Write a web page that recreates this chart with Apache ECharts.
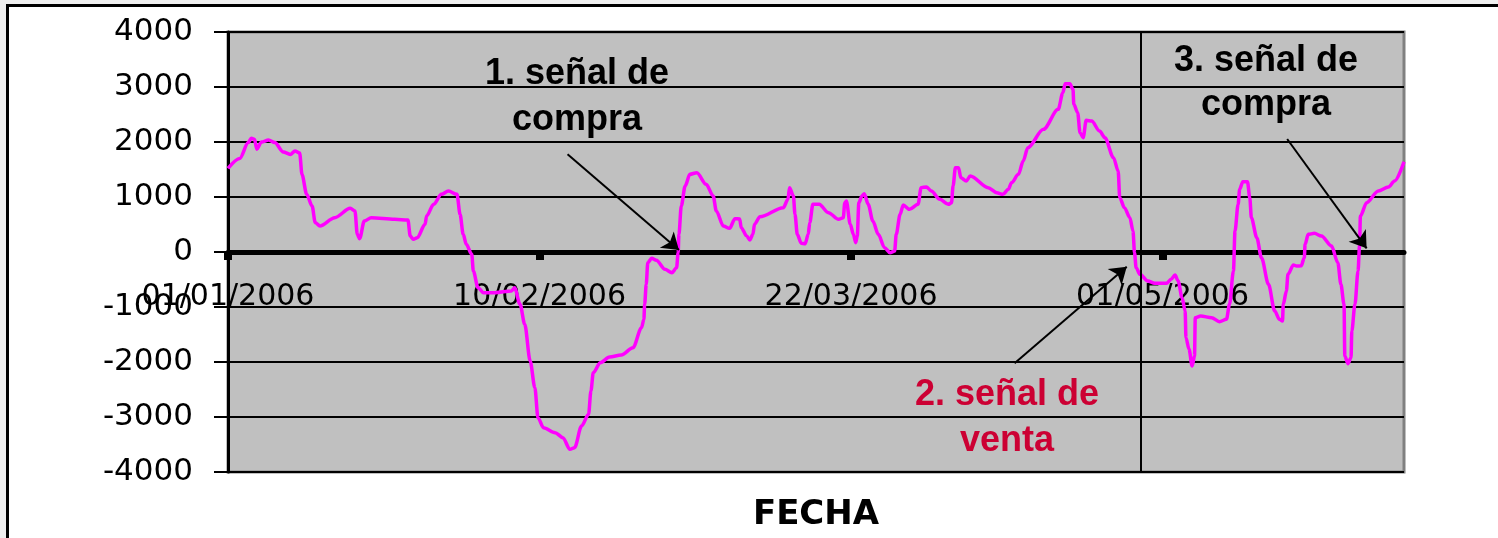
<!DOCTYPE html>
<html>
<head>
<meta charset="utf-8">
<script src="https://cdn.jsdelivr.net/npm/echarts@6/dist/echarts.min.js"></script>
<style>
html, body { margin: 0; padding: 0; background: #efefef; overflow: hidden; }
#panel { position: absolute; left: 6px; top: 4px; width: 1600px; height: 600px; background: #fff; border-top: 3px solid #000; border-left: 3px solid #000; }
#chart { position: absolute; left: 0; top: 0; width: 1498px; height: 538px; }
</style>
</head>
<body>
<div id="panel"></div>
<div id="chart"></div>
<script>
const dias = [
  0, 1.5, 2.6, 3.0, 3.4, 3.7, 4.3, 5.2, 6.0, 7.1, 8.0, 8.6, 9.2, 9.5, 10.1, 10.8, 11.2, 11.8,
  13.7, 15.7, 16.3, 16.6, 16.9, 17.5, 18.4, 21.4, 23.1, 23.4, 23.8, 24.3, 25.3, 25.5, 26.4,
  27.4, 28.3, 29.4, 29.8, 30.2, 30.6, 31.3, 31.5, 32.1, 32.8, 34.3, 36.4, 36.8, 37.5, 38.1,
  38.8, 39.4, 39.8, 40.5, 42.0, 43.0, 43.9, 44.5, 45.4, 46.3, 46.6, 46.9, 47.8, 49.0, 50.5,
  52.0, 53.1, 53.4, 53.5, 53.7, 53.9, 54.4, 55.0, 56.1, 57.0, 57.6, 57.8, 57.9, 58.2, 58.7,
  59.3, 60.2, 61.4, 62.3, 62.7, 63.6, 64.4, 65.1, 65.7, 65.9, 66.6, 67.0, 67.4, 67.6, 68.3,
  71.3, 71.9, 72.1, 72.6, 72.8, 73.1, 73.6, 74.1, 74.5, 74.7, 75.1, 75.9, 77.1, 78.4, 79.0,
  79.2, 79.4, 79.9, 80.3, 80.6, 80.8, 81.0, 81.4, 81.7, 82.2, 82.8, 83.5, 84.3, 85.0, 85.6,
  85.8, 86.3, 86.7, 87.5, 88.6, 89.0, 89.7, 90.3, 91.4, 92.5, 92.9, 93.1, 93.4, 93.8, 94.1,
  94.8, 95.3, 97.6, 98.7, 99.5, 100.2, 100.6, 101.5, 102.1, 102.7, 104.7, 106.6, 107.2, 107.5,
  108.1, 108.5, 108.6, 109.1, 109.4, 109.8, 110.2, 110.9, 111.9, 112.6, 113.7, 114.3, 114.5,
  115.1, 115.8, 116.2, 116.4, 116.6, 117.1, 118.1, 119.0, 120.5, 121.1, 121.6, 122.0, 122.5,
  122.9, 123.0, 123.4, 123.8, 124.1, 124.2, 124.9, 126.3, 127.3, 128.2, 128.6, 129.1, 129.3,
  129.7, 129.9, 130.3, 130.9, 131.2, 131.4, 132.1, 132.7, 133.6, 134.4, 135.0, 135.4, 135.5,
  135.9, 136.1, 136.8, 137.2, 137.8, 138.2, 138.3, 138.7, 139.5, 140.4, 141.7, 142.5, 142.9,
  143.3, 143.4, 143.8, 144.2, 144.3, 144.7, 145.1, 145.3, 145.4, 146.2, 147.7, 149.0, 149.8, 151.0
];
const valores = [
  1520, 1700, 1990, 2070, 2050, 1870, 2000, 2036, 1990, 1820, 1775, 1836, 1800, 1410, 1050, 836, 533, 473,
  624, 794, 745, 321, 242, 564, 624, 594, 582, 291, 230, 260, 503, 654, 867,
  1048, 1109, 1048, 685, 321, 140, -42, -345, -648, -739, -739, -709, -650, -951, -1315,
  -1982, -2466, -3012, -3194, -3285, -3375, -3588, -3557, -3163, -2951, -2527, -2194, -2012, -1909, -1873,
  -1739, -1376, -1224, -951, -588, -194, -115, -152, -315, -376, -285, -12, 321, 836, 1200,
  1412, 1442, 1230, 1018, 745, 473, 430, 606, 600, 442, 291, 218, 321, 503, 642,
  806, 958, 1170, 1018, 685, 321, 158, 150, 321, 533, 867, 867, 715, 594, 624,
  897, 927, 503, 321, 170, 291, 897, 1018, 1060, 867, 564, 321, 79, -12, 18,
  321, 685, 855, 776, 867, 1170, 1182, 1109, 958, 867, 897, 1200, 1533, 1533, 1351,
  1291, 1382, 1170, 1079, 1048, 1139, 1260, 1412, 1654, 1897, 2230, 2594, 2897, 3060,
  3060, 2957, 2685, 2533, 2170, 2079, 2394, 2382, 2200, 2079, 1715, 1473, 988,
  806, 624, 382, -12, -285, -406, -527, -570, -570, -497, -418, -527, -830,
  -1073, -1557, -1770, -2073, -1891, -1194, -1164, -1194, -1266, -1224, -951, -345, 382,
  867, 1139, 1279, 1279, 988, 624, 261, -103, -588, -1073, -1224, -1254, -951,
  -709, -406, -236, -255, -250, -103, 139, 321, 339, 291, 109, -194, -588,
  -951, -1891, -2030, -1921, -1436, -951, -345, 139, 654, 897, 1109, 1182, 1291, 1640
];
// fechas del eje (días desde el 01/01/2006)
const fechasEje = [0, 40, 80, 120];
// flechas de las señales: [día, valor] de inicio y de punta
const flechas = [
  [[43.6, 1776], [57.9, 36]],
  [[101.0, -2024], [115.4, -267]],
  [[136.0, 2055], [146.2, 67]]
];
const diaCorte = 117.2;

const inicio = Date.UTC(2006, 0, 1);
const dos = n => (n < 10 ? '0' : '') + n;
const fecha = d => {
  const t = new Date(inicio + d * 86400000);
  return dos(t.getUTCDate()) + '/' + dos(t.getUTCMonth() + 1) + '/' + t.getUTCFullYear();
};

const chart = echarts.init(document.getElementById('chart'));

const lineas = flechas.map(f => [{ coord: f[0] }, { coord: f[1] }]);
lineas.push([
  { coord: [diaCorte, 4000], symbol: 'none' },
  { coord: [diaCorte, -4000], symbol: 'none' }
]);

chart.setOption({
  animation: false,
  grid: {
    left: 228, right: 94, top: 32, bottom: 66,
    show: true, backgroundColor: '#C0C0C0', borderColor: '#808080', borderWidth: 3
  },
  xAxis: {
    type: 'value', min: 0, max: 151, interval: 40,
    // el eje va sobre la línea del cero (mitad de la rejilla)
    offset: -220,
    axisLine: { onZero: false, lineStyle: { color: '#000', width: 5 } },
    axisTick: { customValues: fechasEje, length: 8, lineStyle: { color: '#000', width: 8 } },
    axisLabel: {
      customValues: fechasEje, formatter: fecha, margin: 30,
      fontFamily: 'DejaVu Sans', fontSize: 30, color: '#000'
    },
    splitLine: { show: false }
  },
  yAxis: {
    type: 'value', min: -4000, max: 4000, interval: 1000,
    axisLine: { show: true, onZero: false, lineStyle: { color: '#000', width: 3 } },
    axisTick: { show: true, length: 14, lineStyle: { color: '#000', width: 2 } },
    axisLabel: {
      margin: 35, formatter: v => String(v),
      fontFamily: 'DejaVu Sans', fontSize: 31, color: '#000'
    },
    splitLine: { lineStyle: { color: '#000', width: 2 } }
  },
  series: [{
    type: 'line',
    data: dias.map((d, i) => [d, valores[i]]),
    showSymbol: false,
    smooth: 0.3,
    smoothMonotone: 'x',
    lineStyle: { color: '#FF00FF', width: 3.5 },
    markLine: {
      silent: true,
      symbol: ['none', 'arrow'],
      symbolSize: 16,
      label: { show: false },
      lineStyle: { color: '#000', width: 2, type: 'solid' },
      data: lineas
    }
  }],
  graphic: [
    {
      type: 'text', x: 577, y: 97,
      style: { text: '1. señal de\ncompra', font: 'bold 36px "Liberation Sans"', fill: '#000', align: 'center', verticalAlign: 'middle', lineHeight: 46 }
    },
    {
      type: 'text', x: 1007, y: 418,
      style: { text: '2. señal de\nventa', font: 'bold 36px "Liberation Sans"', fill: '#CC0033', align: 'center', verticalAlign: 'middle', lineHeight: 46 }
    },
    {
      type: 'text', x: 1266, y: 83,
      style: { text: '3. señal de\ncompra', font: 'bold 36px "Liberation Sans"', fill: '#000', align: 'center', verticalAlign: 'middle', lineHeight: 44 }
    },
    {
      type: 'text', x: 816, y: 515,
      style: { text: 'FECHA', font: 'bold 34px "DejaVu Sans"', fill: '#000', align: 'center', verticalAlign: 'middle' }
    }
  ]
});
</script>
</body>
</html>
